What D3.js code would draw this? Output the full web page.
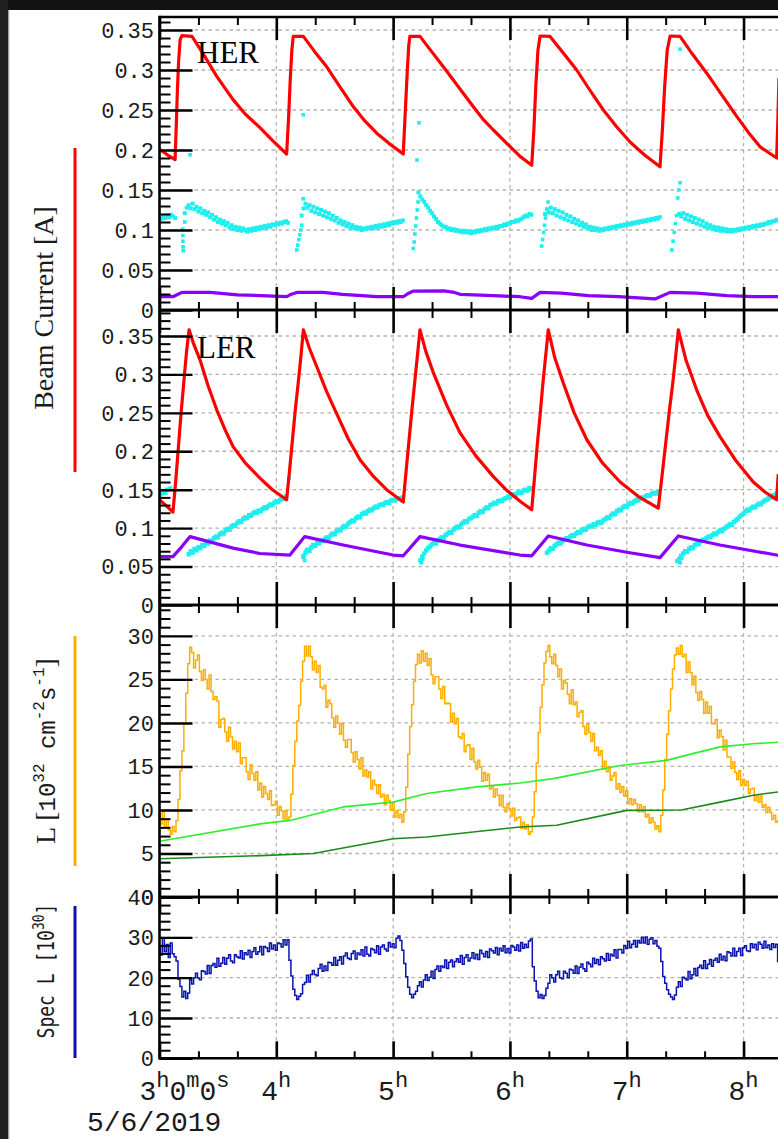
<!DOCTYPE html>
<html>
<head>
<meta charset="utf-8">
<script src="https://cdn.jsdelivr.net/npm/d3@7"></script>
<style>
  html, body { margin: 0; padding: 0; background: #fff; }
  svg { display: block; }
</style>
</head>
<body>
<svg id="chart" width="778" height="1139"></svg>
<script>
// ---------------- data (time = minutes after 03:00:00, 5/6/2019) ----------------
const timeStartParts = ["3", "h", "0", "m", "0", "s"];
const dateLabel = "5/6/2019";
const hourTicks = [0, 60, 120, 180, 240, 300];
const hourLabels = ["", "4", "5", "6", "7", "8"];

const currentTicks = [0, 0.05, 0.1, 0.15, 0.2, 0.25, 0.3, 0.35];
const lumiTicks = [0, 5, 10, 15, 20, 25, 30];
const specTicks = [0, 10, 20, 30, 40];

// HER beam current [A], [minute, value]
const herCurrent = [[0,0.201],[4,0.194],[8.0,0.188],[8.6,0.230],[9.2,0.275],[9.8,0.310],[10.6,0.338],[11.5,0.343],[16.7,0.342],[23,0.318],[29.4,0.292],[37.8,0.263],[44,0.245],[51.6,0.228],[58,0.212],[65.3,0.195],[66.3,0.240],[67.2,0.290],[68.0,0.325],[68.7,0.342],[73.9,0.342],[80,0.322],[85.9,0.304],[92.7,0.279],[99.6,0.254],[105.6,0.236],[111.6,0.221],[118,0.208],[125.2,0.195],[126.2,0.245],[127.2,0.295],[128.0,0.330],[128.6,0.342],[133.8,0.342],[139.8,0.323],[145.8,0.304],[153.5,0.279],[161.2,0.254],[166,0.239],[171.5,0.225],[178.5,0.208],[185.2,0.192],[191.2,0.181],[192.3,0.225],[193.3,0.280],[194.4,0.325],[195.5,0.3425],[200.6,0.342],[207.5,0.321],[214.3,0.300],[221,0.275],[228.0,0.250],[234.8,0.229],[241.7,0.210],[249,0.194],[257.1,0.179],[258.3,0.225],[259.5,0.280],[260.8,0.325],[262.3,0.3425],[267.4,0.342],[274,0.319],[281.1,0.296],[288.8,0.269],[296.5,0.242],[302.5,0.222],[308.5,0.204],[317.0,0.190],[317.6,0.235],[318.2,0.29]];

// HER second current trace [A], one reading per minute (null = no reading)
const herCyan = [.116,.114,.117,.115,.118,.116,.119,.117,.115,null,null,null,null,
.121,.128,.131,.127,.133,.126,.129,.123,.127,.121,.124,.119,.122,.116,.119,.113,.116,.110,.113,.108,.111,.106,.109,.103,.106,.101,.104,.100,.103,.099,.102,.100,.098,.101,.099,.102,.100,.103,.101,.104,.102,.105,.103,.106,.104,.107,.106,.108,.107,.109,.108,.110,.111,.109,
null,null,null,null,null,null,
.118,.127,.133,.128,.131,.124,.129,.122,.127,.120,.125,.118,.123,.116,.121,.114,.118,.112,.115,.109,.112,.107,.110,.105,.108,.103,.106,.102,.104,.101,.103,.100,.102,.101,.103,.102,.104,.102,.105,.103,.106,.104,.107,.105,.108,.106,.109,.108,.110,.109,.111,.110,.112,
null,null,null,null,null,null,null,
.147,.142,.138,.135,.131,.128,.124,.121,.117,.114,.110,.108,.106,.104,.104,.101,.102,.100,.101,.099,.100,.098,.099,.097,.099,.097,.098,.096,.098,.097,.099,.098,.100,.099,.101,.100,.102,.101,.103,.102,.104,.103,.105,.105,.107,.106,.108,.108,.110,.110,.112,.111,.113,.114,.116,.118,.117,.120,.119,
null,null,null,null,null,null,
.120,.126,.122,.128,.121,.126,.118,.124,.116,.122,.114,.119,.112,.117,.110,.114,.108,.112,.106,.109,.104,.107,.102,.104,.100,.103,.100,.102,.099,.101,.100,.102,.101,.103,.102,.104,.103,.105,.104,.106,.105,.107,.106,.108,.107,.109,.108,.110,.109,.111,.110,.112,.111,.113,.112,.114,.113,.115,.114,.116,
null,null,null,null,null,null,null,null,null,
.120,.117,.121,.114,.119,.112,.117,.110,.115,.108,.113,.106,.111,.104,.108,.103,.106,.101,.104,.100,.103,.099,.102,.099,.101,.098,.100,.098,.100,.099,.101,.100,.102,.101,.103,.102,.104,.103,.105,.104,.106,.105,.107,.106,.108,.108,.110,.109,.111,.111,.113,.112];
// scattered readings of the same trace during injections
const herCyanExtra = [[11.9,0.101],[12.0,0.093],[12.0,0.086],[12.1,0.079],[12.2,0.074],[13.0,0.110],[15.7,0.194],[70.5,0.075],[71.0,0.081],[71.6,0.088],[72.1,0.094],[72.6,0.100],[73.1,0.106],[73.8,0.139],[73.8,0.244],[130.4,0.077],[130.8,0.085],[131.2,0.095],[131.6,0.105],[132.0,0.115],[132.3,0.1875],[132.4,0.125],[132.8,0.135],[133.3,0.234],[196.3,0.080],[196.8,0.088],[197.3,0.097],[197.8,0.106],[198.3,0.115],[199.6,0.135],[263.2,0.075],[263.8,0.086],[264.4,0.097],[265.0,0.108],[265.6,0.118],[266.2,0.140],[266.7,0.150],[267.4,0.159],[267.4,0.326]];

const herPurple = [[0,0.0166],[6.9,0.0166],[9,0.019],[11.5,0.022],[26,0.022],[40,0.019],[51.6,0.018],[65.3,0.0166],[67,0.019],[70.5,0.022],[84,0.022],[94,0.0196],[111.6,0.0166],[125.2,0.0166],[128,0.021],[130.4,0.0237],[146,0.024],[151.5,0.022],[154.4,0.0196],[171.5,0.018],[185.2,0.0166],[191.2,0.0146],[195.5,0.022],[206.4,0.021],[220.3,0.018],[235.7,0.0166],[254.5,0.0138],[262.3,0.022],[276,0.021],[291.4,0.018],[305,0.0166],[318.8,0.0166]];

// LER beam current [A]
const lerCurrent = [[0,0.137],[3.5,0.129],[6.9,0.121],[8.3,0.16],[9.7,0.205],[11.1,0.25],[12.5,0.29],[13.9,0.33],[15.2,0.358],[17.5,0.340],[20.8,0.319],[25,0.285],[29.4,0.254],[33.5,0.229],[37.8,0.206],[44,0.185],[51.6,0.165],[58,0.150],[65.3,0.137],[66.8,0.175],[68.3,0.215],[69.8,0.255],[71.3,0.29],[72.7,0.325],[73.9,0.358],[77,0.334],[80.8,0.310],[85.8,0.278],[91.0,0.249],[97,0.216],[103.0,0.189],[110,0.167],[116.7,0.150],[125.2,0.134],[126.7,0.175],[128.2,0.215],[129.7,0.255],[131.1,0.29],[132.5,0.325],[133.8,0.358],[136.8,0.330],[140.7,0.302],[147.5,0.26],[154.4,0.224],[162.5,0.194],[171.5,0.167],[178,0.150],[185.2,0.135],[191.2,0.124],[192.6,0.165],[194.1,0.21],[195.6,0.25],[197,0.29],[198.4,0.325],[199.7,0.358],[203,0.322],[207.4,0.289],[213,0.25],[219.5,0.215],[227.5,0.185],[236.6,0.160],[246,0.141],[256.2,0.126],[258,0.165],[260,0.21],[262,0.255],[263.7,0.29],[265.2,0.325],[266.5,0.358],[270.5,0.318],[275.9,0.28],[281.5,0.247],[287.9,0.219],[296,0.188],[305.0,0.160],[311,0.147],[317.0,0.137],[317.8,0.17]];

const lerCyan = [.141,.145,.148,.146,.150,null,null,null,null,null,null,null,null,null,null,
.066,.070,.068,.073,.071,.075,.074,.078,.077,.081,.080,.084,.083,.087,.089,.088,.092,.094,.093,.097,.099,.098,.102,.104,.103,.107,.109,.108,.112,.114,.113,.117,.116,.119,.121,.120,.123,.122,.125,.127,.126,.129,.131,.130,.133,.135,.134,.137,.139,.138,.141,
null,null,null,null,null,null,null,null,
.064,.068,.072,.070,.075,.078,.077,.081,.080,.084,.083,.086,.088,.087,.091,.093,.092,.096,.098,.097,.101,.103,.102,.106,.108,.110,.109,.113,.115,.114,.118,.120,.119,.122,.124,.123,.126,.128,.127,.130,.131,.130,.133,.134,.133,.136,.137,.136,.138,.139,.138,.140,
null,null,null,null,null,null,null,null,
.058,.063,.067,.071,.074,.076,.079,.081,.080,.084,.086,.088,.087,.091,.093,.095,.094,.098,.100,.102,.101,.105,.107,.109,.108,.112,.113,.115,.117,.116,.120,.122,.121,.125,.127,.126,.130,.131,.133,.132,.135,.136,.135,.138,.139,.141,.140,.143,.144,.143,.146,.147,.146,.149,.150,.149,.152,.151,
null,null,null,null,null,null,null,
.068,.071,.074,.073,.077,.079,.081,.080,.083,.085,.087,.086,.089,.091,.090,.093,.095,.094,.097,.099,.098,.101,.103,.102,.105,.104,.107,.108,.107,.110,.112,.114,.113,.117,.119,.118,.122,.124,.123,.127,.129,.128,.131,.133,.132,.135,.137,.136,.139,.140,.139,.142,.143,.142,.145,.146,.145,.147,
null,null,null,null,null,null,null,null,null,
.057,.060,.064,.067,.070,.069,.073,.075,.074,.078,.080,.079,.083,.085,.084,.087,.089,.088,.091,.093,.092,.095,.097,.096,.099,.101,.103,.105,.104,.108,.110,.112,.115,.117,.119,.122,.124,.123,.126,.128,.127,.130,.132,.131,.134,.136,.137,.139,.140,.142,.143,.145,.146];
const lerCyanExtra = [[5.5,0.152],[66.5,0.165],[73.8,0.062],[74.6,0.058],[75.3,0.070],[134.5,0.055],[135.2,0.060],[267.4,0.055],[268.2,0.061]];

const lerPurple = [[0,0.063],[6.9,0.063],[11.5,0.076],[15.7,0.089],[37.8,0.074],[51.6,0.067],[67,0.065],[74.6,0.089],[94.3,0.078],[120,0.065],[125.2,0.064],[133.8,0.089],[154.4,0.078],[185.2,0.065],[191.2,0.064],[199.7,0.0898],[219.5,0.078],[240,0.0686],[257.1,0.0616],[266.5,0.0898],[287.9,0.078],[317,0.065],[318.8,0.065]];

// Luminosity [1e32 cm^-2 s^-1], one reading per minute
const lumi = [9.6,8.4,9.9,8.1,8.9,7.7,7.2,8.1,7.5,
8.8,11.2,14.5,16.8,19.9,23.4,26.8,28.7,
28.1,26.3,27.2,27.8,25.9,24.9,26.1,25.0,23.9,25.5,23.6,22.7,23.0,22.5,19.5,20.4,20.5,19.0,17.9,19.5,18.4,17.0,17.9,16.7,17.7,15.3,16.0,16.0,14.4,13.5,15.2,14.2,13.4,14.4,12.3,13.1,11.5,12.7,11.9,11.2,12.2,10.5,10.6,11.0,9.4,10.4,9.9,9.0,9.9,8.9,9.2,
11.8,15.1,17.9,20.2,22.0,24.8,27.1,28.8,
27.7,28.8,27.6,26.1,27.1,25.8,26.6,24.1,23.9,24.3,21.8,22.6,22.2,20.6,19.5,20.8,20.0,18.7,19.9,18.0,17.2,18.1,18.1,16.6,15.5,16.7,15.8,14.7,16.0,13.9,14.6,13.8,14.4,12.4,13.4,12.9,11.9,12.9,11.5,11.8,10.6,11.7,11.1,10.0,10.8,9.2,9.9,9.1,9.5,8.6,
9.8,12.6,16.4,19.6,22.1,24.8,26.7,27.9,26.9,28.3,27.1,28.0,26.6,
27.4,25.5,24.5,25.3,25.3,23.9,22.8,24.2,22.2,22.3,22.2,20.1,21.1,19.9,20.5,18.4,18.2,18.8,16.7,17.4,17.5,15.8,17.1,15.5,14.7,15.7,14.9,13.3,14.3,13.4,14.1,12.4,12.7,11.5,12.4,11.7,10.5,11.7,10.3,9.8,10.7,10.1,9.3,10.2,8.8,9.1,9.2,7.9,8.6,7.8,8.3,7.2,7.5,
9.2,12.1,15.4,18.9,21.8,24.4,26.9,28.2,28.9,27.6,
26.8,27.9,26.6,25.3,26.2,23.9,24.9,24.6,23.3,22.2,23.8,22.1,22.4,20.7,21.2,21.4,19.6,18.7,19.9,18.9,17.9,18.8,16.8,17.2,16.3,16.8,14.7,15.6,14.4,14.9,13.4,13.9,14.3,12.4,13.0,12.0,12.7,11.6,12.2,10.7,11.3,10.6,11.2,10.7,9.8,10.6,9.8,10.4,9.2,9.5,8.5,9.1,8.6,7.8,8.2,7.5,
9.4,12.3,15.8,18.7,21.4,23.9,26.2,27.8,28.6,27.9,28.9,27.6,
27.9,25.8,27.0,25.8,24.4,25.4,23.5,22.6,23.6,22.7,21.1,22.4,21.1,21.9,19.9,19.9,20.4,18.3,19.2,18.4,16.9,18.0,16.1,16.1,14.8,15.5,14.3,13.5,14.5,12.8,13.5,12.8,13.3,11.9,12.4,12.5,11.1,11.7,10.9,11.6,10.3,10.6,9.7,10.3,9.7,8.9,9.4,8.6,8.8];

// Integrated luminosity traces, [minute, value]
const lumiGreen = [[0,6.4],[51.6,8.4],[67,8.8],[94.3,10.35],[120,10.9],[137.3,11.9],[163,12.65],[185.2,13.1],[202.2,13.6],[236.6,15.1],[260.5,15.7],[270.8,16.3],[287.9,17.25],[304.9,17.6],[318.8,17.8]];
const lumiDarkGreen = [[0,4.4],[52,4.75],[79,5.0],[120,6.7],[137.3,6.9],[185.2,8.05],[204,8.25],[240,9.95],[268,10.0],[288,10.9],[305,11.7],[318.8,12.1]];

// Specific luminosity [1e30], one reading per minute
const specLumi = [27.5,25.6,29.8,26.4,28.2,25.0,28.6,25.9,25.2,
24.1,19.6,17.8,15.2,16.6,14.8,16.2,
19.5,18.4,20.0,21.1,19.9,19.5,21.7,21.5,20.9,23.0,21.0,23.0,23.5,22.6,24.8,22.8,23.6,25.0,23.3,24.8,25.7,24.1,23.7,25.7,25.2,24.9,26.7,24.6,26.2,25.7,26.8,25.0,26.5,27.4,25.8,26.4,27.7,25.7,27.7,27.4,26.5,28.6,27.1,28.1,26.8,28.6,28.4,27.6,29.4,28.1,29.4,
24.3,20.4,17.1,15.6,14.6,15.4,16.0,18.3,
18.8,20.6,18.9,20.8,21.8,20.8,20.5,22.3,23.3,21.6,22.9,21.8,23.8,23.7,23.1,25.0,23.1,24.3,25.2,23.4,25.4,26.1,24.8,24.5,26.0,26.6,24.6,26.1,25.7,26.9,25.4,27.6,25.8,25.4,27.2,26.9,26.2,27.9,25.8,27.6,28.1,27.1,26.6,28.7,27.6,28.4,27.4,29.8,30.3,29.2,
26.8,
23.5,20.2,17.6,15.9,15.0,15.9,16.6,18.0,
19.0,17.7,19.4,20.7,19.3,20.1,21.6,19.8,22.0,22.9,21.6,22.9,22.5,24.4,22.3,23.8,24.4,22.7,24.0,24.7,23.8,25.5,23.3,25.0,25.7,24.1,24.9,26.2,24.7,25.8,24.5,26.8,26.0,25.2,26.5,25.0,27.1,26.7,26.1,27.5,25.7,27.3,26.6,27.9,26.2,27.2,26.1,28.0,27.6,26.8,28.1,26.6,28.7,27.3,28.3,27.5,29.1,
29.6,
22.7,19.2,16.6,15.0,15.8,14.8,15.6,17.4,
18.6,20.7,20.0,18.9,20.7,21.6,20.0,19.7,21.6,21.1,20.0,22.1,21.9,21.1,22.9,21.0,22.6,23.4,22.2,21.6,23.8,23.4,22.7,24.8,23.5,24.5,23.2,25.2,24.7,24.1,26.0,24.3,25.8,25.4,26.9,24.9,27.0,27.0,26.1,28.0,27.2,29.0,27.4,28.3,29.2,27.6,29.2,28.6,30.0,28.6,30.1,28.3,29.5,29.9,28.4,29.2,27.8,
27.3,
24.0,20.3,18.6,17.0,15.9,15.2,14.6,15.7,17.6,
19.0,17.8,20.1,19.8,19.4,21.5,19.7,20.7,22.3,20.5,22.5,23.1,22.3,24.2,22.3,23.3,24.5,22.8,24.3,24.8,23.8,25.8,24.4,25.3,24.2,26.4,26.2,25.4,27.3,25.4,26.5,27.3,25.5,27.4,27.9,26.7,26.5,28.4,27.4,28.3,26.9,28.8,28.3,27.3,29.0,27.4,28.1,27.0,28.4,27.5,28.3,24.0];

// ---------------- layout ----------------
const W = 778, H = 1139;
const X0 = 159.5, X1 = 778;
const MONO = "'Liberation Mono', 'DejaVu Sans Mono', monospace";
const DMONO = "'DejaVu Sans Mono', monospace";
const SERIF = "'Liberation Serif', 'DejaVu Serif', serif";
const C = {
  red: "#ff0000", cyan: "#1eeeee", purple: "#8a00ff",
  orange: "#ffad00", green: "#2def2d", dgreen: "#1b8a1b", blue: "#0a12b0",
  grid: "#b4b4aa"
};

const svg = d3.select("#chart");
svg.append("rect").attr("width", W).attr("height", H).attr("fill", "#fff");
// dark window edges
svg.append("rect").attr("x", 0).attr("y", 0).attr("width", W).attr("height", 10).attr("fill", "#121212");
svg.append("rect").attr("x", 0).attr("y", 0).attr("width", 8).attr("height", H).attr("fill", "#202020");
svg.append("rect").attr("x", 8).attr("y", 10).attr("width", 1.3).attr("height", H - 10).attr("fill", "#9aa0a8");

const x = d3.scaleLinear().domain([0, 317.7]).range([X0, X1]);
const defs = svg.append("defs");

const panels = [
  { id: "her",  top: 17,  bottom: 310,    max: 0.36625, ticks: currentTicks, minor: 0.01, tickLen: 23, minorLen: 8 },
  { id: "ler",  top: 310, bottom: 605,    max: 0.3838,  ticks: currentTicks, minor: 0.01, tickLen: 23, minorLen: 8 },
  { id: "lum",  top: 605, bottom: 897,    max: 33.55,   ticks: lumiTicks,    minor: 1,    tickLen: 23, minorLen: 8 },
  { id: "spec", top: 897, bottom: 1058.3, max: 40,      ticks: specTicks,    minor: 2,    tickLen: 17, minorLen: 7 }
];

const minorX = d3.range(1, 16).map(i => i * 20).filter(v => v % 60 !== 0);

panels.forEach(p => {
  p.y = d3.scaleLinear().domain([0, p.max]).range([p.bottom, p.top]);
  defs.append("clipPath").attr("id", "clip-" + p.id)
    .append("rect").attr("x", X0).attr("y", p.top).attr("width", X1 - X0).attr("height", p.bottom - p.top);
  p.g = svg.append("g");
  // dashed grid
  const grid = p.g.append("g").attr("stroke", C.grid).attr("stroke-width", 1.3).attr("stroke-dasharray", "3.5,3.5");
  grid.selectAll("line.gh").data(p.ticks.filter(v => v > 0 && p.y(v) > p.top + 2)).join("line")
    .attr("class", "gh").attr("x1", X0).attr("x2", X1).attr("y1", d => p.y(d)).attr("y2", d => p.y(d));
  grid.selectAll("line.gv").data(hourTicks.filter(v => v > 0)).join("line")
    .attr("class", "gv").attr("x1", d => x(d)).attr("x2", d => x(d)).attr("y1", p.top).attr("y2", p.bottom);
  p.plot = p.g.append("g").attr("clip-path", "url(#clip-" + p.id + ")");
});

const [pHer, pLer, pLum, pSpec] = panels;

function drawLine(p, data, color, width, curve) {
  const line = d3.line().x(d => x(d[0])).y(d => p.y(d[1])).curve(curve || d3.curveLinear);
  p.plot.append("path").datum(data).attr("d", line)
    .attr("fill", "none").attr("stroke", color).attr("stroke-width", width)
    .attr("stroke-linejoin", "round");
}
function drawSeries(p, values, color, width, curve) {
  const line = d3.line().defined(d => d != null).x((d, i) => x(i)).y(d => p.y(d)).curve(curve || d3.curveLinear);
  p.plot.append("path").datum(values).attr("d", line)
    .attr("fill", "none").attr("stroke", color).attr("stroke-width", width);
}
function drawDots(p, pts, color, size) {
  p.plot.append("g").attr("fill", color).selectAll("rect").data(pts).join("rect")
    .attr("x", d => x(d[0]) - size / 2).attr("y", d => p.y(d[1]) - size / 2)
    .attr("width", size).attr("height", size);
}
const perMinute = arr => arr.map((v, i) => [i, v]).filter(d => d[1] != null);

// HER panel
drawDots(pHer, perMinute(herCyan), C.cyan, 4);
drawDots(pHer, herCyanExtra, C.cyan, 3.6);
drawLine(pHer, herCurrent, C.red, 3.2);
drawLine(pHer, herPurple, C.purple, 3.2);

// LER panel
drawDots(pLer, perMinute(lerCyan), C.cyan, 4.4);
drawDots(pLer, lerCyanExtra, C.cyan, 3.8);
drawLine(pLer, lerCurrent, C.red, 3.2);
drawLine(pLer, lerPurple, C.purple, 3.2);

// luminosity panel
drawSeries(pLum, lumi, C.orange, 1.5, d3.curveStep);
drawLine(pLum, lumiGreen, C.green, 1.6);
drawLine(pLum, lumiDarkGreen, C.dgreen, 1.6);

// specific luminosity panel
drawSeries(pSpec, specLumi, C.blue, 1.5, d3.curveStep);

// ticks, labels and frame
panels.forEach(p => {
  const minorY = d3.range(0, Math.floor(p.max / p.minor + 1e-6) + 1).map(i => +(i * p.minor).toFixed(4))
    .filter(v => !p.ticks.some(t => Math.abs(t - v) < 1e-6));
  const ax = p.g.append("g");
  ax.append("g").attr("transform", `translate(${X0},0)`)
    .call(d3.axisRight(p.y).tickValues(p.ticks).tickSize(33).tickSizeOuter(0).tickFormat(""))
    .call(a => a.select(".domain").remove())
    .call(a => a.selectAll("line").attr("stroke-width", 2.4));
  ax.append("g").attr("transform", `translate(${X0},0)`)
    .call(d3.axisRight(p.y).tickValues(minorY).tickSize(11).tickSizeOuter(0).tickFormat(""))
    .call(a => a.select(".domain").remove())
    .call(a => a.selectAll("line").attr("stroke-width", 2));
  ax.append("g").attr("transform", `translate(0,${p.top})`)
    .call(d3.axisBottom(x).tickValues(hourTicks).tickSize(p.tickLen).tickSizeOuter(0).tickFormat(""))
    .call(a => a.select(".domain").remove())
    .call(a => a.selectAll("line").attr("stroke-width", 2.6));
  ax.append("g").attr("transform", `translate(0,${p.bottom})`)
    .call(d3.axisTop(x).tickValues(hourTicks).tickSize(p.tickLen).tickSizeOuter(0).tickFormat(""))
    .call(a => a.select(".domain").remove())
    .call(a => a.selectAll("line").attr("stroke-width", 2.6));
  ax.append("g").attr("transform", `translate(0,${p.top})`)
    .call(d3.axisBottom(x).tickValues(minorX).tickSize(p.minorLen).tickSizeOuter(0).tickFormat(""))
    .call(a => a.select(".domain").remove())
    .call(a => a.selectAll("line").attr("stroke-width", 2));
  ax.append("g").attr("transform", `translate(0,${p.bottom})`)
    .call(d3.axisTop(x).tickValues(minorX).tickSize(p.minorLen).tickSizeOuter(0).tickFormat(""))
    .call(a => a.select(".domain").remove())
    .call(a => a.selectAll("line").attr("stroke-width", 2));

  ax.append("g").selectAll("text").data(p.ticks).join("text")
    .attr("x", 154).attr("y", d => p.y(d)).attr("dy", "0.36em")
    .attr("text-anchor", "end").attr("font-family", MONO).attr("font-size", 22).attr("fill", "#1a1a1a")
    .text(d => String(+d.toFixed(2)));
});

// frame
const frame = svg.append("g").attr("stroke", "#000").attr("stroke-width", 2.6);
frame.append("line").attr("x1", X0).attr("x2", X0).attr("y1", panels[0].top - 1.3).attr("y2", panels[3].bottom + 1.3);
panels.forEach(p => {
  frame.append("line").attr("x1", X0).attr("x2", X1).attr("y1", p.top).attr("y2", p.top);
  frame.append("line").attr("x1", X0).attr("x2", X1).attr("y1", p.bottom).attr("y2", p.bottom);
});

// panel names
svg.append("text").attr("x", 197).attr("y", 63).attr("font-family", SERIF).attr("font-size", 31).text("HER");
svg.append("text").attr("x", 197).attr("y", 358).attr("font-family", SERIF).attr("font-size", 31).text("LER");

// time axis labels
const xl = svg.append("g").attr("font-family", MONO).attr("fill", "#1a1a1a");
hourTicks.forEach((h, i) => {
  if (!hourLabels[i]) return;
  const t = xl.append("text").attr("x", x(h)).attr("y", 1100).attr("text-anchor", "middle");
  t.append("tspan").attr("font-size", 28).text(hourLabels[i]);
  t.append("tspan").attr("font-size", 22).attr("dy", -13).text("h");
});
{
  const t = xl.append("text").attr("x", x(0) - 20).attr("y", 1100);
  timeStartParts.forEach((s, i) => {
    const sup = i % 2 === 1;
    t.append("tspan").attr("font-size", sup ? 22 : 28).attr("dy", i === 0 ? 0 : (sup ? -13 : 13)).text(s);
  });
  xl.append("text").attr("x", 87).attr("y", 1131).attr("font-size", 28).text(dateLabel);
}

// y axis titles with colour keys
const keys = svg.append("g");
keys.append("text").attr("transform", "translate(53,308) rotate(-90)").attr("text-anchor", "middle")
  .attr("font-family", SERIF).attr("font-size", 28).attr("fill", "#1a1a1a").text("Beam Current [A]");
keys.append("line").attr("x1", 75).attr("x2", 75).attr("y1", 148).attr("y2", 472).attr("stroke", C.red).attr("stroke-width", 3);

{
  const t = keys.append("text").attr("transform", "translate(55,751) rotate(-90)").attr("text-anchor", "middle").attr("fill", "#1a1a1a");
  t.append("tspan").attr("font-family", SERIF).attr("font-size", 28).text("L [");
  t.append("tspan").attr("font-family", MONO).attr("font-size", 24).text("10");
  t.append("tspan").attr("font-family", MONO).attr("font-size", 16).attr("dy", -11).text("32");
  t.append("tspan").attr("font-family", MONO).attr("font-size", 24).attr("dy", 11).text(" cm");
  t.append("tspan").attr("font-family", MONO).attr("font-size", 16).attr("dy", -11).text("-2");
  t.append("tspan").attr("font-family", MONO).attr("font-size", 24).attr("dy", 11).text("s");
  t.append("tspan").attr("font-family", MONO).attr("font-size", 16).attr("dy", -11).text("-1");
  t.append("tspan").attr("font-family", SERIF).attr("font-size", 28).attr("dy", 11).text("]");
}
keys.append("line").attr("x1", 75).attr("x2", 75).attr("y1", 636).attr("y2", 866).attr("stroke", C.orange).attr("stroke-width", 3);

{
  // narrow, tall lettering for the specific-luminosity title
  const t = keys.append("text").attr("transform", "translate(54,971) rotate(-90) scale(1,1.25)").attr("text-anchor", "middle").attr("fill", "#1a1a1a");
  t.append("tspan").attr("font-family", DMONO).attr("font-size", 18).text("Spec L [10");
  t.append("tspan").attr("font-family", DMONO).attr("font-size", 13).attr("dy", -8).text("30");
  t.append("tspan").attr("font-family", DMONO).attr("font-size", 18).attr("dy", 8).text("]");
}
keys.append("line").attr("x1", 75).attr("x2", 75).attr("y1", 906).attr("y2", 1058).attr("stroke", C.blue).attr("stroke-width", 3);
</script>
</body>
</html>
